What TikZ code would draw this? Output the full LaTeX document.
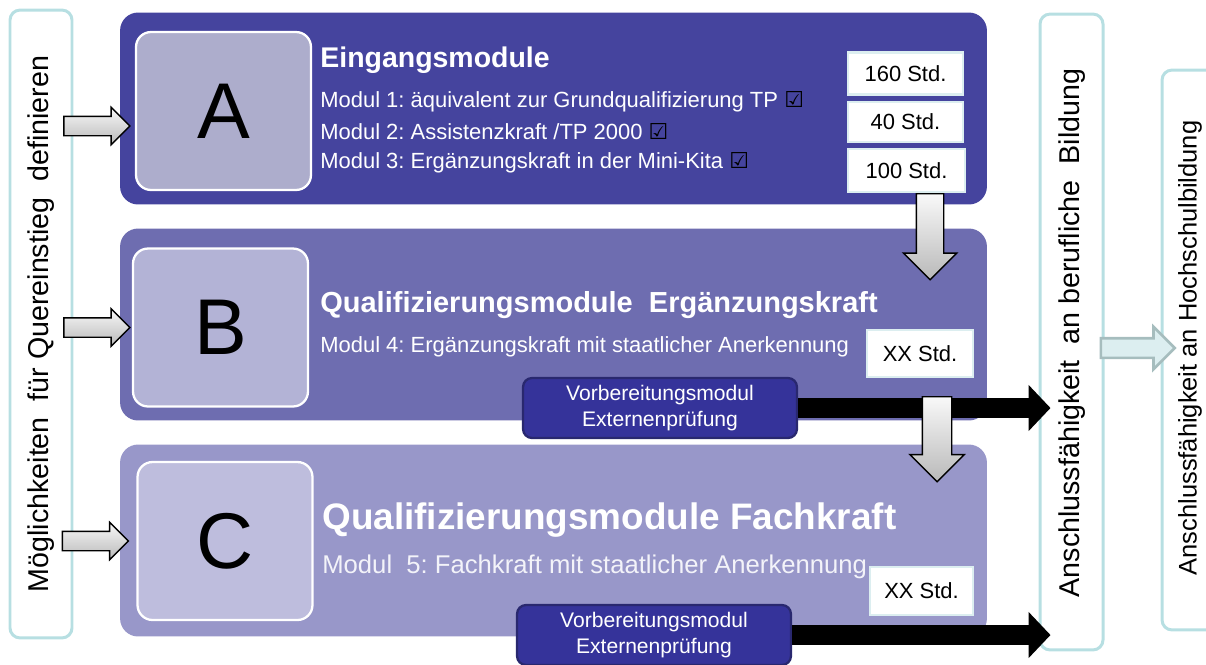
\documentclass[tikz,border=0pt]{standalone}
\usepackage{fontspec}
\setmainfont{Liberation Sans}
\newfontfamily\symfont{DejaVu Sans}
\usepackage{tikz}
\usetikzlibrary{positioning, shapes.arrows, arrows.meta}
\frenchspacing

\definecolor{modA}{HTML}{45449E}
\definecolor{modB}{HTML}{6E6DB0}
\definecolor{modC}{HTML}{9897C9}
\definecolor{letA}{HTML}{ADADCC}
\definecolor{letB}{HTML}{B3B3D6}
\definecolor{letC}{HTML}{BEBDDD}
\definecolor{sideline}{HTML}{B7DFE2}
\definecolor{stdline}{HTML}{DCEEF0}
\definecolor{prepfill}{HTML}{35339A}
\definecolor{prepline}{HTML}{29286F}
\definecolor{lightfill}{HTML}{DCEEF0}
\definecolor{lightline}{HTML}{A6BDBE}

\newcommand{\chk}{{\color{black}\symfont ☑}}

\begin{document}
\begin{tikzpicture}[x=0.02cm, y=-0.02cm,
    every node/.style={font=\fontsize{12.5}{14}\selectfont},
    sidebox/.style={draw=sideline, line width=1.7pt, fill=white, rounded corners=0.2cm, minimum width=1.24cm},
    sidetext/.style={rotate=90, font=\fontsize{16.3}{16}\selectfont},
    modbox/.style={rounded corners=0.36cm, minimum width=17.34cm, minimum height=3.84cm},
    letterbox/.style={draw=white, line width=1.3pt, rounded corners=0.3cm, minimum width=3.5cm, minimum height=3.16cm, font=\fontsize{45}{45}\selectfont},
    stdbox/.style={draw=stdline, line width=1.2pt, fill=white, minimum width=2.3cm, minimum height=0.84cm},
    prepbox/.style={draw=prepline, line width=1.3pt, fill=prepfill, rounded corners=0.18cm, minimum width=5.48cm, minimum height=1.2cm, text=white, align=center, font=\fontsize{12}{15}\selectfont},
    garrow/.style={single arrow, draw=black, line width=0.8pt, top color=gray!5, bottom color=gray!55, inner sep=0.18cm, single arrow head extend=0.18cm, minimum height=1.32cm},
    downarrow/.style={garrow, shape border rotate=270, anchor=tail, inner sep=0.26cm, single arrow head extend=0.26cm, minimum height=1.72cm},
    head/.style={anchor=west, inner sep=0pt, text=white, font=\bfseries\fontsize{16.2}{18}\selectfont},
    line/.style={anchor=west, inner sep=0pt, text=white},
    toright/.style={line width=0.4cm, -{Triangle[length=0.44cm 0, width=0.9cm 0]}, shorten >=-0.24cm}
  ]
  \useasboundingbox (0,0) rectangle (1206,664);

  \node[sidebox, minimum height=12.56cm] (lside) at (41,324) {};
  \node[sidetext] (lsidetext) at (lside) {Möglichkeiten\ \ für Quereinstieg\ \ definieren};

  \node[modbox, fill=modA] (modA) at (553.5,108.5) {};
  \node[letterbox, fill=letA] (letA) at (223.5,111) {A};
  \node[head] (headA) at (320,60) {Eingangsmodule};
  \node[line] (m1) at (320,102) {Modul 1: äquivalent zur Grundqualifizierung TP \chk};
  \node[line] (m2) at (320,132) {Modul 2: Assistenzkraft /TP 2000 \chk};
  \node[line] (m3) at (320,163) {Modul 3: Ergänzungskraft in der Mini-Kita \chk};
  \node[stdbox] (s160) at (905.5,73.5) {160 Std.};
  \node[stdbox, minimum height=0.8cm] (s40) at (905.5,122) {40 Std.};
  \node[stdbox, minimum width=2.34cm, minimum height=0.86cm] (s100) at (906.5,170.5) {100 Std.};

  \node[modbox, fill=modB] (modB) at (553.5,324.5) {};
  \node[letterbox, fill=letB] (letB) at (220.5,327.5) {B};
  \node[head, font=\bfseries\fontsize{16.5}{18}\selectfont] (headB) at (320,305) {Qualifizierungsmodule\ \ Ergänzungskraft};
  \node[line] (m4) at (320,347) {Modul 4: Ergänzungskraft mit staatlicher Anerkennung};
  \node[stdbox, minimum width=2.12cm, minimum height=0.94cm] (xxB) at (920,353.5) {XX Std.};
  \node[prepbox] (prepB) at (660,408) {Vorbereitungsmodul\\Externenprüfung};

  \node[modbox, fill=modC] (modC) at (553.5,540.5) {};
  \node[letterbox, fill=letC] (letC) at (225,541) {C};
  \node[head, font=\bfseries\fontsize{21}{24}\selectfont] (headC) at (322,520) {Qualifizierungsmodule Fachkraft};
  \node[line, text=white!88!modC, font=\fontsize{14.6}{16}\selectfont] (m5) at (322,567) {Modul\ \ 5: Fachkraft mit staatlicher Anerkennung};
  \node[stdbox, minimum width=2.06cm, minimum height=0.96cm] (xxC) at (921.5,591) {XX Std.};
  \node[prepbox] (prepC) at (654,635) {Vorbereitungsmodul\\Externenprüfung};

  \node[sidebox, minimum width=1.26cm, minimum height=12.72cm] (rside1) at (1071.5,332) {};
  \node[sidetext] (rsidetext1) at (1072,333) {Anschlussfähigkeit\ \ an berufliche\ \ Bildung};
  \node[sidebox, minimum width=1.2cm, minimum height=11.2cm] (rside2) at (1192,350) {};
  \node[sidetext, font=\fontsize{14.5}{15}\selectfont] (rsidetext2) at (1190,348) {Anschlussfähigkeit an Hochschulbildung};

  \draw[toright] (prepB.east) -- (prepB.east -| rside1.west);
  \draw[toright] (prepC.east) -- (prepC.east -| rside1.west);

  \node[garrow, anchor=tip, yshift=-0.3cm] (toA) at ([xshift=-0.08cm]letA.west) {};
  \node[garrow, anchor=tip] (toB) at ([xshift=-0.02cm]letB.west) {};
  \node[garrow, anchor=tip] (toC) at ([xshift=-0.14cm]letC.west) {};

  \node[downarrow] (AtoB) at ([xshift=0.47cm]s100.south) {};
  \node[downarrow, inner sep=0.28cm, single arrow head extend=0.25cm, minimum height=1.7cm] (BtoC) at ([xshift=0.34cm, yshift=-0.36cm]xxB.south) {};

  \node[single arrow, draw=lightline, line width=1.5pt, fill=lightfill, anchor=tail, inner sep=0.17cm, single arrow head extend=0.23cm, minimum height=1.48cm] (toHS) at ([xshift=-0.1cm, yshift=-0.32cm]rside1.east) {};
\end{tikzpicture}
\end{document}
